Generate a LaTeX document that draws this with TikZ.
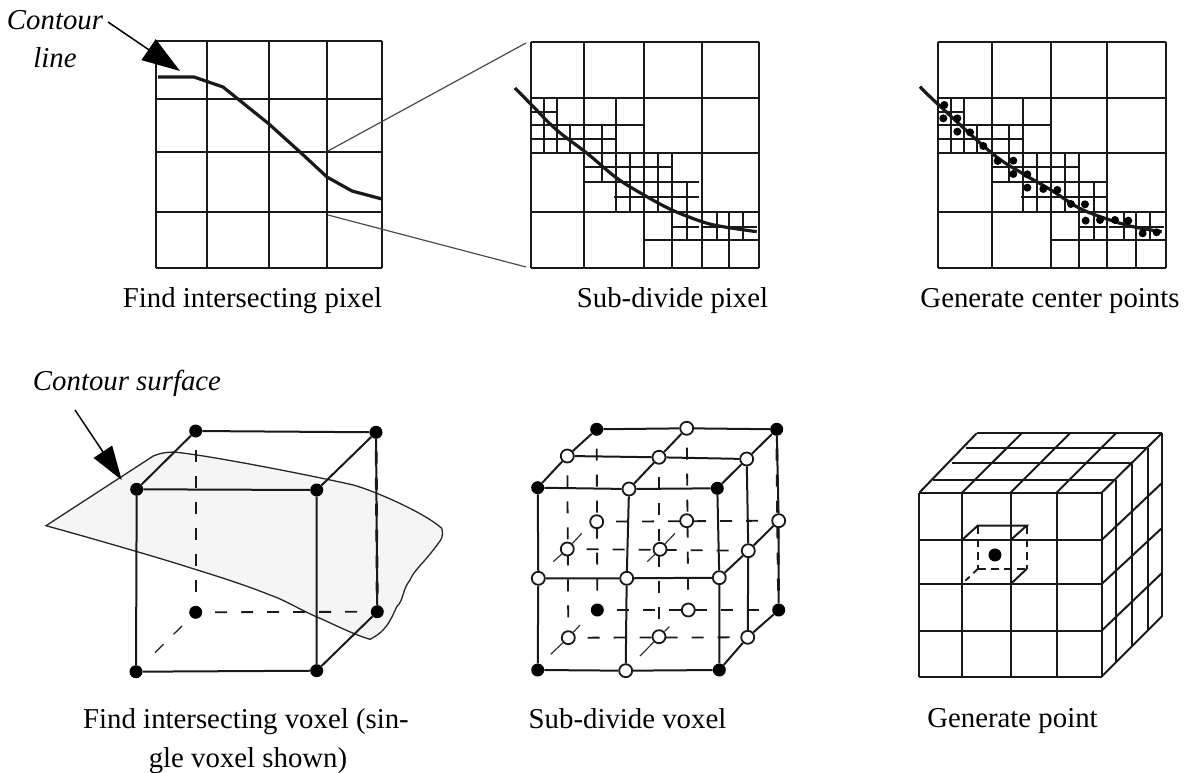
\documentclass[tikz,border=0pt]{standalone}
\usepackage{fontspec}
\setmainfont{Liberation Serif}
\usepackage{xcolor}
\usetikzlibrary{arrows.meta,backgrounds}
\definecolor{surfacegray}{RGB}{245,245,245}
\tikzset{
  gridline/.style={line width=2pt, black!90},
  hidden/.style={line width=1.8pt, black!90, dash pattern=on 12pt off 14pt, dash phase=6.7pt},
  hiddenthick/.style={hidden, line width=2.8pt},
  smalldash/.style={line width=1.8pt, black!90, dash pattern=on 8pt off 5pt},
  contour/.style={line width=3.2pt, black!90, line join=round},
  zoomline/.style={line width=1.2pt, black!70},
  caption/.style={font=\fontsize{28.8}{39}\selectfont, align=center, inner sep=0pt, anchor=base},
  callout/.style={font=\fontsize{28.8}{38}\selectfont\itshape, align=center, inner sep=0pt},
  blackdot/.style={circle, fill=black, inner sep=0pt, minimum size=13pt},
  whitedot/.style={circle, draw=black!90, fill=white, line width=1.8pt, inner sep=0pt, minimum size=13pt},
}
% the refined cells of the two pixel panels, in units of a third of a pixel
\newcommand{\subcells}{%
  \foreach \x/\ya/\yb in {162/205/368, 200/200/368, 240/285/368, 335/285/457,
      379/205/547, 420/368/547, 505/368/547, 547/368/714, 592/457/630,
      680/547/630, 718/547/714, 758/547/630}
    \draw[gridline] (\x,\ya) -- (\x,\yb);
  \foreach \y/\xa/\xb in {245/122/200, 285/122/463, 328/122/379, 412/283/547,
      457/283/627, 502/372/627, 590/547/627, 590/635/800, 630/463/808}
    \draw[gridline] (\xa,\y) -- (\xb,\y);
}
\begin{document}
\begin{tikzpicture}[x=1pt,y=-1pt]
  \useasboundingbox (0,0) rectangle (1184,773);
  % --- top row: find intersecting pixel
  \foreach \x in {155.5,207,269,327,382}
    \draw[gridline] (\x,41) -- (\x,268);
  \foreach \y in {41,99,152,212,268}
    \draw[gridline] (155.5,\y) -- (382,\y);
  \draw[contour] (158,77) -- (194,77) -- (223,87) -- (269,124) -- (300,152)
    -- (327,177) -- (352,191) -- (382,199);
  \node[callout] (contourline) at (55,39) {Contour\\line};
  \coordinate (linetail) at (108,22);
  \coordinate (linetip) at (180,71);
  \draw[-{Triangle[length=38pt,width=25pt]}, line width=1.5pt] (linetail) -- (linetip);
  \node[caption] (findpixel) at (252.5,307.5) {Find intersecting pixel};
  % lines over to the enlarged pixel
  \coordinate (zoomfromtop) at (328,151);
  \coordinate (zoomfrombot) at (328,215);
  \coordinate (zoomtotop) at (526,43);
  \coordinate (zoomtobot) at (526,267);
  \draw[zoomline] (zoomfromtop) -- (zoomtotop);
  \draw[zoomline] (zoomfrombot) -- (zoomtobot);
  % --- top row: sub-divide pixel
  \foreach \x in {530.7,584,644,702,759}
    \draw[gridline] (\x,41.7) -- (\x,268);
  \foreach \y in {41.7,98,153,212,268}
    \draw[gridline] (530.7,\y) -- (759,\y);
  \begin{scope}[shift={(490,30)},x=0.3333pt,y=-0.3333pt]
    \subcells
  \end{scope}
  \draw[contour] plot[smooth,tension=0.6] coordinates {(515,88) (530.7,104) (556.7,130)
    (586.7,153) (616.7,178) (644,195) (672,210) (703,222) (723,226.7) (756.7,231.7)};
  \node[caption] (subpixel) at (672.5,307.5) {Sub-divide pixel};
  % --- top row: generate center points
  \foreach \x in {937.7,992,1051,1107,1166}
    \draw[gridline] (\x,41.7) -- (\x,268);
  \foreach \y in {41.7,98,153,212,268}
    \draw[gridline] (937.7,\y) -- (1166,\y);
  \begin{scope}[shift={(897,30)},x=0.3333pt,y=-0.3333pt]
    \subcells
  \end{scope}
  \draw[contour] plot[smooth,tension=0.6] coordinates {(920,86.7) (937.7,104) (991.7,153)
    (1021.7,173) (1051,190) (1079,208) (1107,219) (1133,226.7) (1161.7,231.7)};
  \begin{scope}[shift={(900,30)},x=0.3333pt,y=-0.3333pt]
    \foreach \x/\y in {133/225, 130/265, 172/265, 172/305, 210/307, 250/348, 293/393,
        340/392, 340/432, 382/433, 382/473, 430/477, 472/480, 513/522, 555/523,
        557/572, 600/570, 645/570, 685/572, 728/610, 770/607}
      \fill (\x,\y) circle (4pt);
  \end{scope}
  \node[caption] (centerpoints) at (1050,307.5) {Generate center points};
  % --- bottom row: find intersecting voxel
  \node[blackdot] (voxfronttl) at (136.7,489.3) {};
  \node[blackdot] (voxfronttr) at (316.7,490) {};
  \node[blackdot] (voxfrontbl) at (136,671.7) {};
  \node[blackdot] (voxfrontbr) at (316.7,670.7) {};
  \node[blackdot] (voxbacktl) at (195.7,431) {};
  \node[blackdot] (voxbacktr) at (376,432.3) {};
  \node[blackdot] (voxbackbl) at (195.7,612.3) {};
  \node[blackdot] (voxbackbr) at (377.3,611.7) {};
  \begin{scope}[on background layer]
    \draw[line width=1.3pt, black!85, fill=surfacegray] (46,525.7) -- (153.3,456)
      .. controls (165,451) and (175,452) .. (180,452.7)
      .. controls (210,456) and (300,473) .. (353.3,485)
      .. controls (375,491) and (425,513) .. (441.7,528.3)
      .. controls (444,536) and (441,540) .. (438.3,543.3)
      .. controls (425,562) and (414,570) .. (410,580)
      .. controls (402,590) and (404,600) .. (396.7,606.7)
      .. controls (390,622) and (385,632) .. (370,639.3)
      .. controls (355,635) and (335,625) .. (320,618.3)
      .. controls (300,610) and (285,600) .. (270,595)
      .. controls (240,583) and (210,574) .. (186.7,566.7)
      .. controls (160,558) and (80,535) .. (46,525.7) -- cycle;
    \draw[hidden] (voxbacktl.center) -- (voxbackbl.center);
    \draw[hidden] (voxbackbl.center) -- (voxbackbr.center);
    \draw[hidden, line width=1.2pt, shorten >=20pt] (voxbackbl.center) -- (voxfrontbl.center);
    \draw[hiddenthick] (voxbacktr.center) -- (voxbackbr.center);
  \end{scope}
  \draw[gridline] (voxfronttl) -- (voxfronttr) -- (voxfrontbr) -- (voxfrontbl) -- (voxfronttl);
  \draw[gridline] (voxfronttl) -- (voxbacktl) -- (voxbacktr) -- (voxfronttr);
  \draw[gridline] (voxfrontbr) -- (voxbackbr) -- (voxbacktr);
  \node[callout, anchor=base] (contoursurface) at (127,390) {Contour surface};
  \coordinate (surfacetail) at (75,410);
  \coordinate (surfacetip) at (121.7,480);
  \draw[-{Triangle[length=34pt,width=22pt]}, line width=1.5pt] (surfacetail) -- (surfacetip);
  \node[caption] (findvoxel) at (246,728) {Find intersecting voxel (sin-};
  \node[caption] (findvoxelb) at (248,767) {gle voxel shown)};
  % --- bottom row: sub-divide voxel
  \node[blackdot] (subfronttl) at (537.7,487.7) {};
  \node[blackdot] (subfronttr) at (717.3,488.3) {};
  \node[blackdot] (subfrontbl) at (537.7,670) {};
  \node[blackdot] (subfrontbr) at (719.3,670) {};
  \node[blackdot] (subbacktl) at (596.7,429.3) {};
  \node[blackdot] (subbacktr) at (776.7,429.3) {};
  \node[blackdot] (subbackbr) at (778.7,610) {};
  \node[blackdot] (subinnerbl) at (597.3,610) {};
  \foreach \name/\x/\y in {topback/686.7/428.3, topleft/567.3/456, topmid/659/457.3,
      topright/746.7/459, fronttop/629/489, frontleft/538.3/578.3, frontmid/626.7/578.3,
      frontright/719.3/577.7, sidemid/748.3/550.7, sideback/778.7/520.7,
      frontbot/625.7/670.7, sidebot/747.7/637.3, innera/596.7/521.7, innerb/686.7/520.7,
      innerc/567.3/549, innerd/660/549.3, innere/568.3/637.7, innerf/659/636.7,
      innerg/688.3/610}
    \node[whitedot] (\name) at (\x,\y) {};
  \begin{scope}[on background layer]
    \draw[hidden] (subbacktl.center) -- (subinnerbl.center);
    \draw[hidden] (topback.center) -- (innerg.center);
    \draw[hidden] (topleft.center) -- (innere.center);
    \draw[hidden] (topmid.center) -- (innerf.center);
    \draw[hidden] (innera.center) -- (sideback.center);
    \draw[hidden] (innerc.center) -- (sidemid.center);
    \draw[hidden] (subinnerbl.center) -- (subbackbr.center);
    \draw[hidden] (innere.center) -- (sidebot.center);
    \draw[hiddenthick] (subbacktr.center) -- (subbackbr.center);
  \end{scope}
  \draw[gridline] (subfronttl) -- (fronttop) -- (subfronttr) -- (frontright)
    -- (subfrontbr) -- (frontbot) -- (subfrontbl) -- (frontleft) -- (subfronttl);
  \draw[gridline] (fronttop) -- (frontmid) -- (frontbot);
  \draw[gridline] (frontleft) -- (frontmid) -- (frontright);
  \draw[gridline] (subfronttl) -- (topleft) -- (subbacktl) -- (topback) -- (subbacktr)
    -- (topright) -- (subfronttr);
  \draw[gridline] (fronttop) -- (topmid) -- (topback);
  \draw[gridline] (topleft) -- (topmid) -- (topright) -- (sidemid) -- (sidebot);
  \draw[gridline] (frontright) -- (sidemid) -- (sideback);
  \draw[gridline] (subfrontbr) -- (sidebot) -- (subbackbr);
  \draw[gridline] (subbacktr) -- (sideback) -- (subbackbr);
  % diagonal stubs through the inner nodes
  \foreach \a/\xa/\ya/\xb/\yb in {innerc/581.7/533.3/553.3/561.7, innerd/675/533.3/647.3/561.7,
      innere/580/625/550.7/654.3, innerf/669.3/626.7/640/656}
    \draw[line width=1.2pt, black!80] (\xa,\ya) -- (\a) -- (\xb,\yb);
  \node[caption] (subvoxel) at (627.5,728) {Sub-divide voxel};
  % --- bottom row: generate point
  \begin{scope}[shift={(900,420)},x=0.3333pt,y=-0.3333pt]
    % front face
    \foreach \x in {58,186,332,470,605}
      \draw[gridline] (\x,218) -- (\x,770);
    \foreach \y in {218,360,492,632,770}
      \draw[gridline] (58,\y) -- (605,\y);
    % top face
    \foreach \xa/\xb in {58/230,186/365,332/510,470/648,605/785}
      \draw[gridline] (\xa,218) -- (\xb,40);
    \foreach \xa/\xb/\y in {100/645/180,155/695/128,198/740/85,230/785/40}
      \draw[gridline] (\xa,\y) -- (\xb,\y);
    % side face
    \foreach \x/\ya/\yb in {648/180/727,695/128/680,743/85/630,785/40/590}
      \draw[gridline] (\x,\ya) -- (\x,\yb);
    \foreach \ya/\yb in {770/590,632/460,492/325,360/190}
      \draw[gridline] (605,\ya) -- (785,\yb);
    % the small voxel
    \coordinate (celltl) at (186,360);
    \coordinate (celltr) at (332,360);
    \coordinate (cellbl) at (186,492);
    \coordinate (cellbr) at (332,492);
    \coordinate (cellbacktl) at (233,317);
    \coordinate (cellbacktr) at (380,317);
    \coordinate (cellbackbl) at (233,447);
    \coordinate (cellbackbr) at (380,447);
    \draw[gridline] (celltl) -- (cellbacktl) -- (cellbacktr) -- (celltr);
    \draw[gridline] (cellbr) -- (cellbackbr);
    \draw[smalldash] (cellbacktr) -- (cellbackbr);
    \draw[smalldash] (cellbacktl) -- (cellbackbl);
    \draw[smalldash] (cellbackbl) -- (cellbackbr);
    \draw[smalldash, dash pattern=on 6pt off 5pt] (cellbackbl) -- (cellbl);
    \node[blackdot] (voxelcenter) at (285,405) {};
  \end{scope}
  \node[caption] (genpoint) at (1012.5,727) {Generate point};
\end{tikzpicture}
\end{document}
